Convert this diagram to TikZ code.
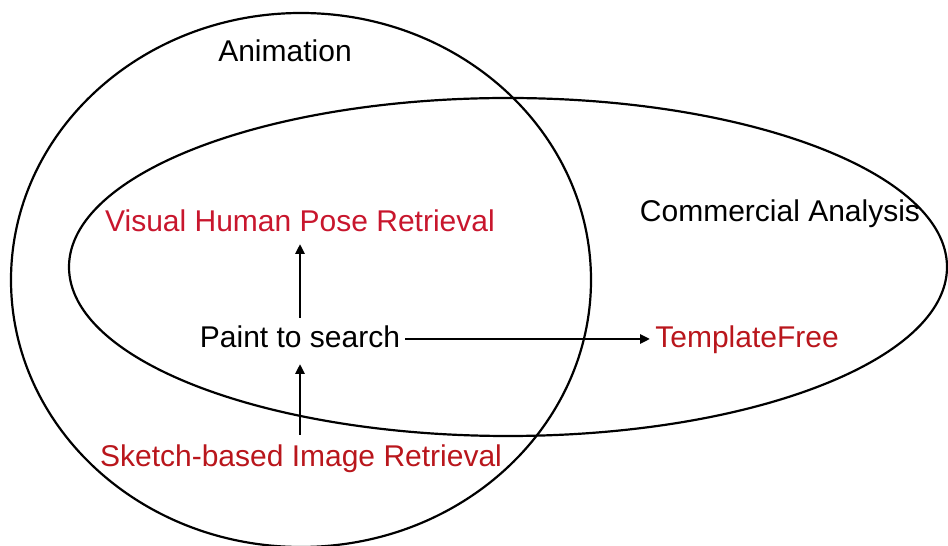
\documentclass[tikz,border=0pt]{standalone}
\usepackage{fontspec}
\setmainfont{Liberation Sans}
\usetikzlibrary{arrows.meta}
\definecolor{redA}{RGB}{200,22,45}
\definecolor{redB}{RGB}{185,22,28}
\tikzset{
  setline/.style={draw=black, line width=2.2pt},
  lbl/.style={font=\fontsize{30}{34}\selectfont, inner sep=0pt, anchor=base},
  conn/.style={line width=2.6pt, -{Triangle[length=10pt,width=9pt]}}
}
\begin{document}
\begin{tikzpicture}[x=1pt,y=1pt]
\useasboundingbox (0,0) rectangle (948,546);
\begin{scope}
\clip (0,0) rectangle (948,546);
\draw[setline] (301,266) ellipse [x radius=290, y radius=267];
\draw[setline] (508,279) ellipse [x radius=439, y radius=169];
\end{scope}
\node[lbl] (anim) at (285,484) {Animation};
\node[lbl] (comm) at (780,324) {Commercial Analysis};
\node[lbl, text=redA] (vis) at (300,314) {Visual Human Pose Retrieval};
\node[lbl] (paint) at (300,198) {Paint to search};
\node[lbl, text=redB] (tf) at (747,198) {TemplateFree};
\node[lbl, text=redB] (skb) at (301,79) {Sketch-based Image Retrieval};
\coordinate (p1) at (300,228);
\coordinate (p2) at (300,302);
\coordinate (s1) at (300,111);
\coordinate (s2) at (300,182);
\coordinate (h1) at (405,207);
\coordinate (h2) at (650,207);
\draw[conn] (p1) -- (p2);
\draw[conn] (s1) -- (s2);
\draw[conn] (h1) -- (h2);
\end{tikzpicture}
\end{document}
